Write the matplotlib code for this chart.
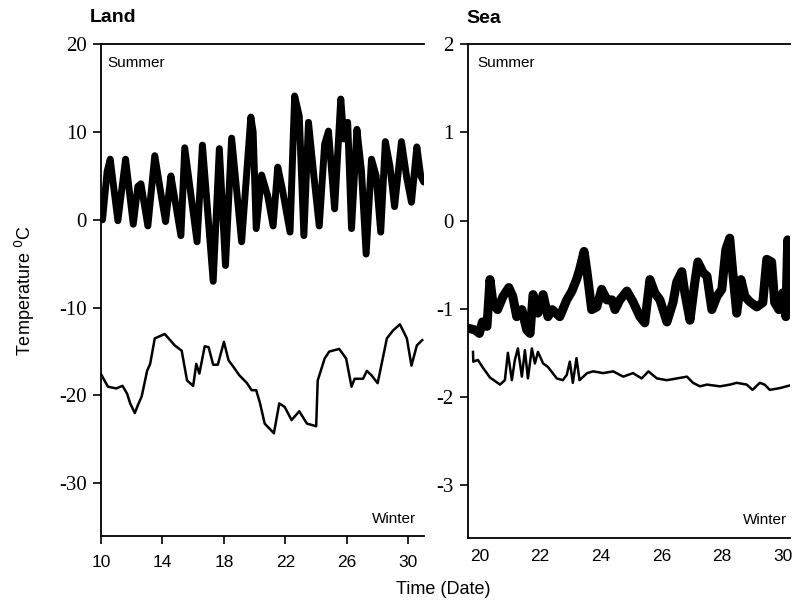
import matplotlib
matplotlib.use("Agg")
import matplotlib.pyplot as plt

# Land, summer (date, temperature degC)
land_summer_day = [9.95, 10.1, 10.4, 10.6, 11.1, 11.6, 12.1, 12.4, 12.6, 13.05, 13.5, 13.85,
                   14.2, 14.55, 14.8, 15.2, 15.45, 16.25, 16.6, 17.3, 17.7, 18.1, 18.5, 19.15,
                   19.75, 19.9, 20.1, 20.45, 20.85, 21.2, 21.5, 21.8, 22.3, 22.6, 22.9, 23.2,
                   23.5, 23.85, 24.2, 24.55, 24.8, 25.2, 25.6, 25.8, 26.05, 26.3, 26.65, 26.95,
                   27.25, 27.6, 27.9, 28.2, 28.5, 28.8, 29.1, 29.55, 29.9, 30.2, 30.55, 30.8, 31.0]
land_summer_temp = [2.7, 0.0, 5.5, 6.9, -0.1, 6.9, -0.5, 3.8, 4.1, -0.7, 7.3, 3.5,
                    -0.2, 5.0, 2.4, -1.8, 8.2, -2.5, 8.5, -7.0, 8.1, -5.2, 9.3, -2.5,
                    11.7, 10.0, -1.0, 5.1, 2.7, -0.7, 6.0, 3.5, -1.4, 14.1, 11.8, -1.8,
                    11.1, 5.0, -0.7, 8.6, 10.1, 1.25, 13.75, 9.2, 11.1, -1.0, 10.3, 5.5,
                    -3.9, 6.9, 5.0, -1.4, 8.9, 6.1, 1.5, 8.9, 4.7, 2.0, 8.3, 5.0, 4.3]

# Land, winter
land_winter_day = [9.95, 10.45, 11.0, 11.4, 11.7, 11.9, 12.2, 12.4, 12.65, 13.0, 13.2, 13.5,
                   14.15, 14.5, 14.8, 15.25, 15.6, 16.0, 16.2, 16.4, 16.75, 17.0, 17.3, 17.6,
                   18.0, 18.3, 18.6, 19.0, 19.5, 19.8, 20.1, 20.35, 20.65, 21.25, 21.6, 21.95,
                   22.4, 22.9, 23.4, 24.0, 24.1, 24.55, 24.85, 25.5, 25.95, 26.3, 26.5, 27.05,
                   27.3, 27.6, 28.0, 28.6, 29.0, 29.45, 29.9, 30.2, 30.55, 30.9]
land_winter_temp = [-17.4, -19.0, -19.2, -18.9, -19.8, -20.9, -22.0, -21.1, -20.1, -17.2, -16.4, -13.5,
                    -13.0, -13.7, -14.3, -14.9, -18.3, -18.9, -16.4, -17.5, -14.4, -14.5, -16.5, -16.5,
                    -13.9, -16.0, -16.7, -17.7, -18.6, -19.4, -19.4, -20.9, -23.2, -24.3, -20.9, -21.3,
                    -22.8, -21.8, -23.2, -23.5, -18.3, -15.8, -15.0, -14.7, -15.8, -19.0, -18.1, -18.1,
                    -17.2, -17.7, -18.6, -13.5, -12.6, -11.9, -13.5, -16.6, -14.3, -13.7]

# Sea, summer
sea_summer_day = [19.62, 19.85, 20.0, 20.1, 20.25, 20.35, 20.45, 20.6, 20.78, 20.97, 21.1, 21.23,
                  21.4, 21.56, 21.67, 21.77, 21.93, 22.1, 22.26, 22.4, 22.65, 22.88, 23.05, 23.2,
                  23.3, 23.45, 23.55, 23.7, 23.87, 24.03, 24.2, 24.37, 24.47, 24.63, 24.86, 25.06,
                  25.29, 25.45, 25.62, 25.78, 25.95, 26.18, 26.38, 26.5, 26.67, 26.77, 26.94, 27.1,
                  27.2, 27.37, 27.5, 27.66, 27.83, 27.99, 28.12, 28.25, 28.35, 28.48, 28.62, 28.75,
                  28.91, 29.14, 29.34, 29.47, 29.63, 29.73, 29.87, 30.0, 30.1, 30.16, 30.18]
sea_summer_temp = [-1.22, -1.24, -1.28, -1.15, -1.2, -0.67, -0.94, -1.01, -0.86, -0.76, -0.86, -1.09,
                   -1.01, -1.24, -1.28, -0.84, -1.05, -0.84, -1.09, -1.01, -1.09, -0.9, -0.8, -0.67,
                   -0.56, -0.35, -0.59, -1.01, -0.98, -0.78, -0.9, -0.9, -1.01, -0.9, -0.8, -0.92,
                   -1.09, -1.16, -0.67, -0.82, -0.9, -1.15, -0.93, -0.7, -0.58, -0.82, -1.13, -0.7,
                   -0.47, -0.59, -0.63, -1.01, -0.86, -0.78, -0.33, -0.2, -0.59, -1.05, -0.67, -0.86,
                   -0.92, -0.98, -0.93, -0.44, -0.47, -0.93, -1.01, -0.82, -1.09, -0.22, -0.9]

# Sea, winter
sea_winter_day = [19.79, 19.8, 19.95, 20.12, 20.35, 20.68, 20.84, 20.94, 21.07, 21.17, 21.27, 21.4,
                  21.5, 21.6, 21.73, 21.83, 21.93, 22.1, 22.26, 22.55, 22.75, 22.88, 22.98, 23.08,
                  23.2, 23.3, 23.55, 23.75, 24.08, 24.41, 24.74, 25.06, 25.35, 25.57, 25.85, 26.18,
                  26.51, 26.84, 27.04, 27.27, 27.5, 27.93, 28.26, 28.48, 28.81, 29.0, 29.24, 29.4,
                  29.57, 29.9, 30.23]
sea_winter_temp = [-1.49, -1.6, -1.58, -1.67, -1.78, -1.86, -1.81, -1.5, -1.81, -1.58, -1.45, -1.77,
                   -1.47, -1.79, -1.45, -1.62, -1.49, -1.62, -1.66, -1.79, -1.81, -1.75, -1.6, -1.84,
                   -1.56, -1.81, -1.73, -1.71, -1.73, -1.71, -1.77, -1.73, -1.79, -1.71, -1.79, -1.81,
                   -1.79, -1.77, -1.84, -1.88, -1.86, -1.88, -1.86, -1.84, -1.86, -1.92, -1.84, -1.86,
                   -1.92, -1.9, -1.87]

land_xticks = [10, 14, 18, 22, 26, 30]
land_yticks = [20, 10, 0, -10, -20, -30]
sea_xticks = [20, 22, 24, 26, 28, 30]
sea_yticks = [2, 1, 0, -1, -2, -3]

SANS = "Liberation Sans"
SERIF = "Liberation Serif"


def style_axes(ax, xticks, yticks, show_xtick_marks=True):
    ax.spines["right"].set_visible(False)
    for side in ("left", "top", "bottom"):
        ax.spines[side].set_linewidth(1.3)
    ax.set_xticks(xticks)
    ax.set_yticks(yticks)
    ax.set_yticklabels([str(v) for v in yticks], fontfamily=SERIF, fontsize=15)
    ax.set_xticklabels([str(v) for v in xticks], fontfamily=SANS, fontsize=12.5)
    ax.tick_params(axis="y", direction="out", length=6, width=1.2, pad=4)
    ax.tick_params(axis="x", direction="out", length=6 if show_xtick_marks else 0,
                   width=1.2, pad=8)


fig = plt.figure(figsize=(7.97, 6.08), dpi=100)
ax1 = fig.add_axes([0.1267, 0.1184, 0.405, 0.809])
ax2 = fig.add_axes([0.587, 0.115, 0.404, 0.8125])

ax1.plot(land_summer_day, land_summer_temp, color="black", lw=5,
         solid_joinstyle="round", solid_capstyle="round")
ax1.plot(land_winter_day, land_winter_temp, color="black", lw=1.8)
ax1.set_xlim(10, 31)
ax1.set_ylim(-36, 20)
style_axes(ax1, land_xticks, land_yticks)
ax1.text(0.02, 0.975, "Summer", transform=ax1.transAxes, ha="left", va="top",
         fontfamily=SANS, fontsize=11)
ax1.text(0.975, 0.035, "Winter", transform=ax1.transAxes, ha="right", va="center",
         fontfamily=SANS, fontsize=11)

ax2.plot(sea_summer_day, sea_summer_temp, color="black", lw=6.5,
         solid_joinstyle="round", solid_capstyle="round")
ax2.plot(sea_winter_day, sea_winter_temp, color="black", lw=1.8)
ax2.set_xlim(19.62, 30.23)
ax2.set_ylim(-3.6, 2)
style_axes(ax2, sea_xticks, sea_yticks, show_xtick_marks=False)
ax2.text(0.031, 0.975, "Summer", transform=ax2.transAxes, ha="left", va="top",
         fontfamily=SANS, fontsize=11)
ax2.text(0.99, 0.036, "Winter", transform=ax2.transAxes, ha="right", va="center",
         fontfamily=SANS, fontsize=11)

fig.text(0.113, 0.972, "Land", fontfamily=SANS, fontweight="bold", fontsize=14, va="center")
fig.text(0.585, 0.970, "Sea", fontfamily=SANS, fontweight="bold", fontsize=14, va="center")
fig.text(0.031, 0.523, "Temperature $^{0}$C", rotation=90, ha="center", va="center",
         fontfamily=SANS, fontsize=13)
fig.text(0.556, 0.03, "Time (Date)", ha="center", va="center", fontfamily=SANS, fontsize=13)

fig.savefig("out.png", dpi=100)
